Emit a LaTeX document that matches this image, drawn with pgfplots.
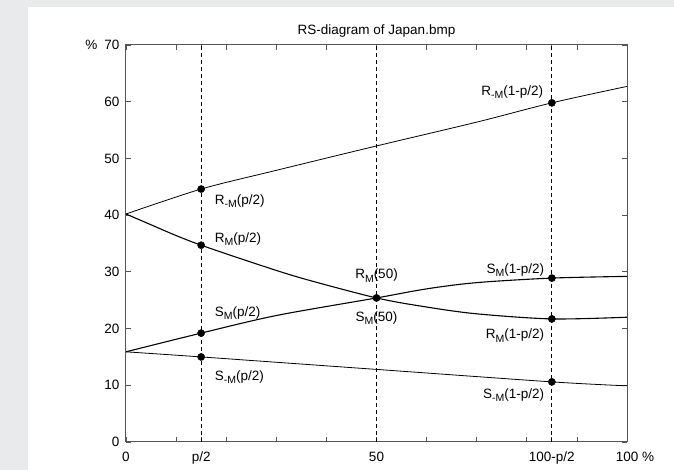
\documentclass[border=0pt]{standalone}
\usepackage{fontspec}
\setmainfont{Liberation Sans}
\usepackage{pgfplots}
\pgfplotsset{compat=1.18}
\definecolor{bg}{RGB}{233,234,236}
\definecolor{frame}{RGB}{85,85,85}
\newcommand\f{\fontsize{13.5bp}{16bp}\selectfont}
\newcommand\sub[1]{\raisebox{-3.5bp}{\fontsize{10.5bp}{12bp}\selectfont #1}}
\begin{document}
\f
\begin{tikzpicture}[x=1bp,y=1bp]
\fill[bg] (-126,-28) rectangle (548,442);
\fill[white] (-98,-28) rectangle (548,435);
\begin{axis}[at={(0,0)}, anchor=south west, scale only axis,
  width=501bp, height=397bp,
  xmin=0, xmax=100, ymin=0, ymax=70, clip=false,
  axis line style={frame, line width=1bp},
  tick align=inside, major tick length=5bp, minor tick length=5bp,
  tick style={frame, line width=0.8bp},
  xtick={0,15,50,85,100},
  xticklabels={0,p/2,50,100-p/2,{100\rlap{ \%}}},
  minor xtick={10,20,30,40,60,70,80,90},
  ytick={0,10,...,70},
  yticklabels={0,10,20,30,40,50,60,{\llap{\%\hspace{7bp}}70}},
  /pgf/number format/assume math mode=true,
  tick label style={font=\f},
  xticklabel style={yshift=-5bp},
  yticklabel style={xshift=-2bp},
  title={RS-diagram of Japan.bmp},
  title style={font=\f, at={(0.5,1)}, anchor=south, yshift=-3bp},
]
% dashed verticals
\addplot[black, line width=0.8bp, dash pattern=on 4bp off 3bp] coordinates {(15,0) (15,70)};
\addplot[black, line width=0.8bp, dash pattern=on 4bp off 3bp] coordinates {(50,0) (50,70)};
\addplot[black, line width=0.8bp, dash pattern=on 4bp off 3bp] coordinates {(85,0) (85,70)};
% R_{-M}
\addplot[black, line width=0.8bp, smooth] coordinates {(0,40.2) (15,44.6) (30,47.9) (50,52.2) (70,56.4) (85,59.8) (100,62.7)};
% S_{-M}
\addplot[black, line width=0.8bp, smooth] coordinates {(0,15.9) (15,15.0) (50,12.8) (85,10.6) (100,9.9)};
% R_M
\addplot[black, line width=1.1bp, smooth] coordinates {(0,40.2) (5,38.3) (10,36.4) (15,34.7) (25,31.7) (35,28.9) (50,25.4) (60,23.8) (70,22.6) (85,21.7) (100,22.0)};
% S_M
\addplot[black, line width=1.1bp, smooth] coordinates {(0,15.9) (15,19.2) (30,22.3) (50,25.4) (60,27.0) (70,28.1) (85,28.9) (100,29.2)};
% dots
\addplot[only marks, mark=*, mark size=3.6bp, black] coordinates {(15,44.6) (15,34.7) (15,19.2) (15,15.0) (50,25.4) (85,59.8) (85,28.9) (85,21.7) (85,10.6)};
% labels
\node[anchor=west] at (axis cs:16.8,42.5) {R\sub{-M}(p/2)};
\node[anchor=west] at (axis cs:16.8,35.8) {R\sub{M}(p/2)};
\node[anchor=west] at (axis cs:16.8,22.7) {S\sub{M}(p/2)};
\node[anchor=west] at (axis cs:16.8,11.4) {S\sub{-M}(p/2)};
\node at (axis cs:50,29.3) {R\sub{M}(50)};
\node at (axis cs:50,21.8) {S\sub{M}(50)};
\node[anchor=east] at (axis cs:84.2,61.7) {R\sub{-M}(1-p/2)};
\node[anchor=east] at (axis cs:84.4,30.3) {S\sub{M}(1-p/2)};
\node[anchor=east] at (axis cs:84.4,18.8) {R\sub{M}(1-p/2)};
\node[anchor=east] at (axis cs:84.4,8.3) {S\sub{-M}(1-p/2)};
\end{axis}
\end{tikzpicture}
\end{document}
